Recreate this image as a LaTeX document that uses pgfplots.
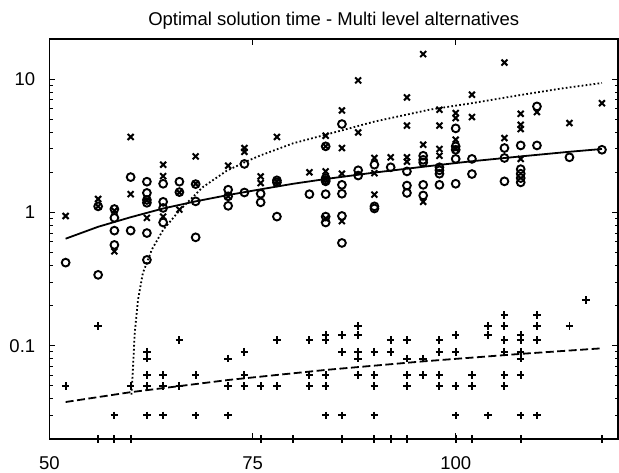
\documentclass[border=0pt]{standalone}
\usepackage{fontspec}
\setmainfont{Liberation Sans}
\usepackage{pgfplots}
\pgfplotsset{compat=1.18}

\begin{document}
\begin{tikzpicture}
\begin{axis}[
  scale only axis,
  width=569pt, height=400pt,
  xmin=50, xmax=120,
  ymode=log, ymin=0.02, ymax=20,
  xtick={50,75,100}, xticklabels={50,75,100},
  ytick={0.1,1,10}, yticklabels={0.1,1,10},
  minor xtick={},
  minor ytick={0.03,0.04,0.05,0.06,0.07,0.08,0.09,0.2,0.3,0.4,0.5,0.6,0.7,0.8,0.9,2,3,4,5,6,7,8,9},
  tick align=inside,
  major tick length=6pt, minor tick length=3.5pt,
  axis line style={line width=1.6pt},
  every tick/.style={black, line width=1pt},
  ticklabel style={font=\fontsize{18.5}{19}\selectfont, inner sep=0pt},
  xticklabel style={anchor=base, yshift=-31pt},
  yticklabel style={anchor=east, xshift=-14pt},
  title={Optimal solution time - Multi level alternatives},
  title style={at={(axis description cs:0.5,1)}, anchor=base, yshift=7.5pt,
    inner sep=0pt, font=\fontsize{18.5}{19}\selectfont},
  clip mode=individual,
]
% circles
\addplot[only marks, mark=o, mark size=3.9pt, black,
  mark options={line width=1.9pt}] coordinates {
  (52,0.42)
  (56,1.11)(56,0.34)
  (58,1.06)(58,0.91)(58,0.73)(58,0.57)
  (60,1.84)(60,0.73)
  (62,1.70)(62,1.40)(62,1.24)(62,1.18)(62,0.70)(62,0.44)
  (64,1.64)(64,1.20)(64,1.08)(64,0.84)
  (66,1.70)(66,1.42)
  (68,1.63)(68,1.21)(68,0.65)
  (72,1.48)(72,1.32)(72,1.12)
  (74,2.31)(74,1.41)
  (76,1.38)(76,1.19)
  (78,1.74)(78,1.68)(78,0.93)
  (82,1.37)
  (84,3.13)(84,1.81)(84,1.75)(84,1.71)(84,1.37)(84,0.93)(84,0.84)
  (86,4.60)(86,1.61)(86,1.38)(86,0.94)(86,0.59)
  (88,2.07)(88,1.89)
  (90,2.28)(90,1.11)(90,1.07)
  (92,2.18)
  (94,2.03)(94,1.59)(94,1.40)
  (96,2.66)(96,2.48)(96,2.37)(96,1.61)(96,1.34)
  (98,2.18)(98,2.07)(98,1.95)(98,1.61)
  (100,4.27)(100,3.13)(100,2.95)(100,2.52)(100,1.64)
  (102,2.52)(102,1.94)
  (106,3.04)(106,2.56)(106,1.71)
  (108,3.18)(108,2.11)(108,1.95)(108,1.81)(108,1.68)
  (110,6.24)(110,3.18)
  (114,2.59)
  (118,2.95)
};
% crosses
\addplot[only marks, mark=x, mark size=4.2pt, black,
  mark options={line width=2pt}] coordinates {
  (52,0.94)
  (56,1.26)(56,1.11)
  (58,1.03)(58,0.51)
  (60,3.68)(60,1.37)
  (62,1.23)(62,0.91)
  (64,2.28)(64,1.87)(64,0.93)
  (66,1.41)(66,1.05)
  (68,2.63)(68,1.64)
  (72,2.24)(72,1.32)
  (74,3.04)(74,2.85)
  (76,1.86)(76,1.66)
  (78,3.68)(78,1.71)
  (82,2.00)
  (84,3.76)(84,3.13)(84,2.03)(84,1.78)(84,0.90)
  (86,5.82)(86,3.04)(86,1.95)(86,0.86)
  (88,9.78)(88,3.98)
  (90,2.56)(90,1.97)(90,1.36)
  (92,2.59)
  (94,7.29)(94,4.48)(94,2.59)(94,2.40)
  (96,15.4)(96,3.22)(96,1.20)
  (98,5.89)(98,4.48)(98,2.99)(98,2.66)
  (100,5.56)(100,5.10)(100,3.51)(100,3.00)
  (102,7.64)(102,5.19)
  (106,13.3)(106,3.61)
  (108,5.49)(108,4.54)(108,4.22)(108,2.52)
  (110,5.66)
  (114,4.68)
  (118,6.6)
};
% pluses
\addplot[only marks, mark=+, mark size=3.8pt, black,
  mark options={line width=1.9pt}] coordinates {
  (52,0.05)
  (56,0.14)(56,0.02)
  (58,0.03)(58,0.02)
  (60,0.05)(60,0.02)
  (62,0.09)(62,0.08)(62,0.06)(62,0.05)(62,0.03)
  (64,0.06)(64,0.05)(64,0.03)
  (66,0.11)(66,0.05)
  (68,0.06)(68,0.03)
  (72,0.08)(72,0.05)(72,0.03)
  (74,0.09)(74,0.06)(74,0.05)
  (76,0.05)(76,0.02)
  (78,0.11)(78,0.05)
  (80,0.02)
  (82,0.11)(82,0.06)(82,0.05)
  (84,0.12)(84,0.11)(84,0.06)(84,0.05)(84,0.03)
  (86,0.12)(86,0.09)(86,0.03)(86,0.02)
  (88,0.14)(88,0.12)(88,0.09)(88,0.08)(88,0.06)
  (90,0.09)(90,0.06)(90,0.05)(90,0.03)(90,0.02)
  (92,0.11)(92,0.09)(92,0.02)
  (94,0.11)(94,0.08)(94,0.06)(94,0.05)(94,0.02)
  (96,0.08)(96,0.06)
  (98,0.11)(98,0.09)(98,0.06)(98,0.05)
  (100,0.12)(100,0.09)(100,0.05)(100,0.03)(100,0.02)
  (102,0.06)(102,0.05)(102,0.02)
  (104,0.14)(104,0.12)(104,0.03)
  (106,0.17)(106,0.14)(106,0.11)(106,0.09)(106,0.06)(106,0.05)
  (108,0.12)(108,0.11)(108,0.09)(108,0.08)(108,0.06)(108,0.03)(108,0.02)
  (110,0.17)(110,0.14)(110,0.11)(110,0.03)
  (114,0.14)
  (116,0.22)
  (118,0.02)
};
% fitted curves
\addplot[black, line width=1.8pt, mark=none] coordinates {
  (52,0.635)(56,0.78)(60,0.92)(64,1.07)(68,1.21)(72,1.35)(76,1.49)(80,1.64)
  (84,1.78)(90,1.99)(96,2.20)(102,2.42)(108,2.63)(114,2.85)(118,2.99)
};
\addplot[black, line width=1.8pt, dash pattern=on 1.7pt off 2.3pt, mark=none] coordinates {
  (60.1,0.043)(60.3,0.07)(60.5,0.124)(60.9,0.22)(61.5,0.35)(62.6,0.525)
  (64,0.74)(66.1,1.05)(68.9,1.55)(71.8,2.05)(74.3,2.42)(76,2.68)
  (80,3.3)(84.5,3.9)(90,4.8)(96.8,5.9)(102,6.6)(108,7.6)(113,8.5)(118,9.35)
};
\addplot[black, line width=1.8pt, dash pattern=on 8pt off 3.5pt, mark=none] coordinates {
  (52,0.0378)(60,0.0448)(72,0.0553)(84,0.0658)(96,0.0763)(108,0.0868)(118,0.0956)
};
\end{axis}
\pgfresetboundingbox
\path[use as bounding box] ([xshift=-49.4pt,yshift=-34pt]current axis.south west)
  rectangle ([xshift=0.8pt,yshift=39pt]current axis.north east);
\end{tikzpicture}
\end{document}
